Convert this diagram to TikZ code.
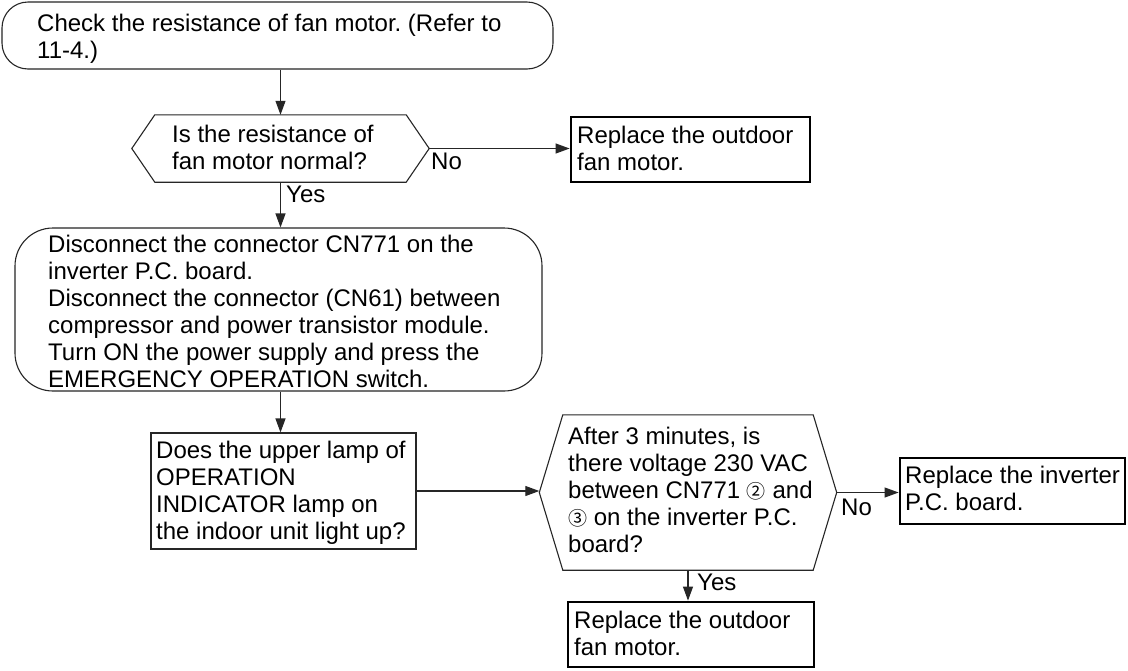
\documentclass[tikz,border=0pt]{standalone}
\usepackage{fontspec}
\setmainfont{Liberation Sans}
\newfontfamily\symf{Noto Sans CJK JP}
\usetikzlibrary{arrows.meta}
\frenchspacing
\newcommand\tfont{\fontsize{24}{26.9}\selectfont\frenchspacing}
\newcommand\tst{\rule{0pt}{19pt}}
\newcommand\cnum[1]{{\symf\fontsize{19}{19}\selectfont #1}}
\begin{document}
\begin{tikzpicture}[x=1pt,y=-1pt,
  ln/.style={draw=black!85, line width=1.1pt},
  rbox/.style={ln, rectangle, inner sep=0pt},
  endbox/.style={draw=black, line width=2.8pt, rectangle, inner sep=0pt},
  hexcore/.style={rectangle, inner sep=0pt},
  arr/.style={ln, -{Triangle[length=14pt,width=10pt]}},
  txt/.style={font=\tfont, align=left, inner sep=0pt, anchor=north west, execute at begin node=\tst}]
\useasboundingbox (0,0) rectangle (1128,670);
\fill[white] (0,0) rectangle (1128,670);

% shapes
\node[rbox, rounded corners=26pt, minimum width=551pt, minimum height=67pt] (b1) at (277.5,35.5) {};
\node[hexcore, minimum width=251pt, minimum height=67pt] (d1) at (280.5,148.5) {};
\coordinate (d1w) at ([xshift=-23pt]d1.west);
\coordinate (d1e) at ([xshift=23pt]d1.east);
\draw[ln] (d1.north west) -- (d1.north east) -- (d1e) -- (d1.south east) -- (d1.south west) -- (d1w) -- cycle;
\node[endbox, minimum width=239pt, minimum height=65pt] (r1) at (690.5,149.5) {};
\node[rbox, rounded corners=38pt, minimum width=527pt, minimum height=163pt] (b2) at (278.5,309.5) {};
\node[rbox, minimum width=265pt, minimum height=116pt] (b3) at (283.5,491) {};
\node[hexcore, minimum width=250pt, minimum height=155pt] (d2) at (688,492.5) {};
\coordinate (d2w) at ([xshift=-23.5pt]d2.west);
\coordinate (d2e) at ([xshift=23.5pt]d2.east);
\draw[ln] (d2.north west) -- (d2.north east) -- (d2e) -- (d2.south east) -- (d2.south west) -- (d2w) -- cycle;
\node[endbox, minimum width=225pt, minimum height=66pt] (r2) at (1012.5,491) {};
\node[endbox, minimum width=246pt, minimum height=65pt] (r3) at (691,634.5) {};

% texts
\node[txt] (t1) at (37,14) {Check the resistance of fan motor. (Refer to\\11-4.)};
\node[txt] (t2) at (172,125) {Is the resistance of\\fan motor normal?};
\node[txt] (t3) at (577,126) {Replace the outdoor\\fan motor.};
\node[txt] (t4) at (48,235) {Disconnect the connector CN771 on the\\inverter P.C. board.\\Disconnect the connector (CN61) between\\compressor and power transistor module.\\Turn ON the power supply and press the\\EMERGENCY OPERATION switch.};
\node[txt] (t5) at (156,441) {Does the upper lamp of\\OPERATION\\INDICATOR lamp on\\the indoor unit light up?};
\node[txt] (t6) at (568,427) {After 3 minutes, is\\there voltage 230 VAC\\between CN771 \cnum{②} and\\\cnum{③} on the inverter P.C.\\board?};
\node[txt] (t7) at (905,466) {Replace the inverter\\P.C. board.};
\node[txt] (t8) at (574,611) {Replace the outdoor\\fan motor.};

% labels
\node[txt] (no1) at (431,150) {No};
\node[txt] (yes1) at (286,183) {Yes};
\node[txt] (no2) at (841,496) {No};
\node[txt] (yes2) at (697,571) {Yes};

% connectors
\draw[arr] (b1.south -| d1.north) -- (d1.north);
\draw[arr] (d1e) -- (d1e -| r1.west);
\draw[arr] (d1.south) -- (d1.south |- b2.north);
\draw[arr] (b2.south -| d1.south) -- (d1.south |- b3.north);
\draw[arr] (b3.east) -- (b3.east -| d2w);
\draw[arr] (d2e) -- (d2e -| r2.west);
\draw[arr] (d2.south) -- (d2.south |- r3.north);
\end{tikzpicture}
\end{document}
